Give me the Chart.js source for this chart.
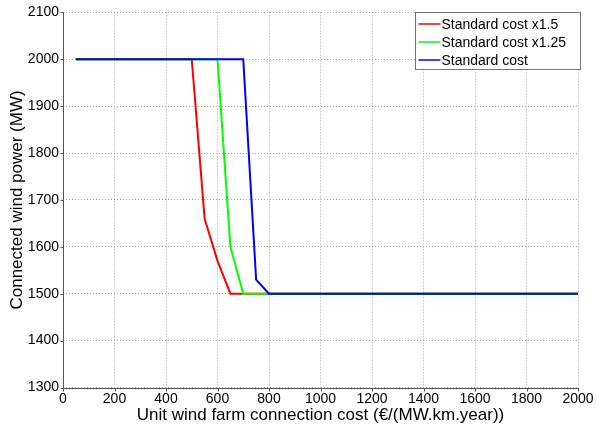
<!DOCTYPE html>
<html>
<head>
<meta charset="utf-8">
<script src="https://cdn.jsdelivr.net/npm/chart.js@4/dist/chart.umd.min.js"></script>
<style>
html,body{margin:0;padding:0;background:#fff;}
#wrap{width:597px;height:432px;}
</style>
</head>
<body>
<div id="wrap"><canvas id="c" width="597" height="432"></canvas></div>
<script>
// Data
const xCosts = [50, 500, 550, 600, 650, 700, 750, 800, 2000];
const seriesLabels = ['Standard cost x1.5', 'Standard cost x1.25', 'Standard cost'];
const costX150 = [2000, 2000, 1660, 1570, 1500, 1500, 1500, 1500, 1500];
const costX125 = [2000, 2000, 2000, 2000, 1600, 1500, 1500, 1500, 1500];
const costStd  = [2000, 2000, 2000, 2000, 2000, 2000, 1530, 1500, 1500];
const xTicks = [0, 200, 400, 600, 800, 1000, 1200, 1400, 1600, 1800, 2000];
const yTicks = [1300, 1400, 1500, 1600, 1700, 1800, 1900, 2000, 2100];
const colors = ['#ff0000', '#00ff00', '#0000ff'];

const FONT = 'Liberation Sans, Arial, sans-serif';

function toPoints(ys) { return xCosts.map((x, i) => ({x: x, y: ys[i]})); }

const axesPlugin = {
  id: 'axesAndLegend',
  afterDraw(chart) {
    const ctx = chart.ctx;
    const a = chart.chartArea;
    const xs = chart.scales.x, ys = chart.scales.y;
    ctx.save();
    ctx.strokeStyle = '#555';
    ctx.lineWidth = 1;
    const L = Math.round(a.left) + 0.5, B = Math.round(a.bottom) + 0.5;
    ctx.beginPath();
    ctx.moveTo(L, Math.round(a.top)); ctx.lineTo(L, B);
    ctx.lineTo(Math.round(a.right) + 1, B);
    xTicks.forEach(v => {
      const px = Math.round(xs.getPixelForValue(v)) + 0.5;
      ctx.moveTo(px, B); ctx.lineTo(px, B + 3);
    });
    yTicks.forEach(v => {
      const py = Math.round(ys.getPixelForValue(v)) + 0.5;
      ctx.moveTo(L, py); ctx.lineTo(L - 3, py);
    });
    ctx.stroke();
    // Legend
    const lx = 415.5, ly = 12.5, lw = 165, lh = 57;
    ctx.fillStyle = '#fff';
    ctx.fillRect(lx, ly, lw, lh);
    ctx.strokeStyle = '#777';
    ctx.strokeRect(lx, ly, lw, lh);
    ctx.font = '14px ' + FONT;
    ctx.textBaseline = 'middle';
    chart.data.datasets.forEach((ds, i) => {
      const yy = ly + 11.5 + i * 18;
      ctx.strokeStyle = ds.borderColor;
      ctx.lineWidth = 1.5;
      ctx.beginPath(); ctx.moveTo(lx + 3, yy); ctx.lineTo(lx + 25, yy); ctx.stroke();
      ctx.fillStyle = '#000';
      ctx.fillText(ds.label, lx + 26, yy + 1);
    });
    ctx.restore();
  }
};

new Chart(document.getElementById('c'), {
  type: 'line',
  data: {
    datasets: [
      {label: seriesLabels[0], data: toPoints(costX150), borderColor: colors[0], order: 3},
      {label: seriesLabels[1], data: toPoints(costX125), borderColor: colors[1], order: 2},
      {label: seriesLabels[2], data: toPoints(costStd), borderColor: colors[2], order: 1}
    ].map(d => Object.assign(d, {borderWidth: 2, pointRadius: 0, tension: 0, fill: false}))
  },
  options: {
    responsive: false,
    animation: false,
    devicePixelRatio: 1,
    layout: {padding: {top: 8, right: 19, left: 0, bottom: 0}},
    plugins: {legend: {display: false}, tooltip: {enabled: false}},
    scales: {
      x: {
        type: 'linear', min: 0, max: 2000,
        afterBuildTicks(s) { s.ticks = xTicks.map(v => ({value: v})); },
        afterFit(s) { s.height = 44.5; },
        grid: {color: '#a8a8a8', lineWidth: 1, drawTicks: false},
        border: {display: false, dash: [1, 2]},
        ticks: {color: '#000', font: {family: FONT, size: 14}, padding: 3, maxRotation: 0, autoSkip: false,
                callback: v => String(v)},
        title: {display: true, text: 'Unit wind farm connection cost (€/(MW.km.year))', color: '#000',
                font: {family: FONT, size: 17}, padding: {top: 0, bottom: 6}}
      },
      y: {
        type: 'linear', min: 1300, max: 2100,
        afterBuildTicks(s) { s.ticks = yTicks.map(v => ({value: v})); },
        afterFit(s) { s.width = 63; },
        grid: {color: '#a8a8a8', lineWidth: 1, drawTicks: false},
        border: {display: false, dash: [1, 2]},
        ticks: {color: '#000', font: {family: FONT, size: 14}, padding: 4, autoSkip: false,
                callback: v => String(v)},
        title: {display: true, text: 'Connected wind power (MW)', color: '#000',
                font: {family: FONT, size: 17}, padding: {top: 7, bottom: 0}}
      }
    }
  },
  plugins: [axesPlugin]
});
</script>
</body>
</html>
